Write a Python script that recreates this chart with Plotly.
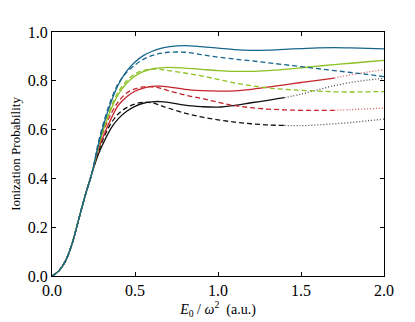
import plotly.graph_objects as go

# field strength E0/w^2 (a.u.)
x = [0, 0.04, 0.08, 0.12, 0.16, 0.2, 0.24, 0.28, 0.32, 0.36, 0.4, 0.45, 0.5, 0.55, 0.6,
     0.65, 0.7, 0.8, 0.9, 1.0, 1.1, 1.2, 1.3, 1.4, 1.5, 1.6, 1.7, 1.8, 1.9, 2.0]

rise = [0, 0.02, 0.06, 0.13, 0.23, 0.33, 0.42]

blue_solid = rise + [0.54, 0.64, 0.72, 0.785, 0.84, 0.877, 0.903, 0.92, 0.932, 0.939, 0.944, 0.94,
                     0.934, 0.928, 0.925, 0.926, 0.929, 0.932, 0.935, 0.936, 0.935, 0.933, 0.931]
blue_dash = rise + [0.55, 0.65, 0.73, 0.79, 0.835, 0.865, 0.888, 0.903, 0.912, 0.917, 0.917, 0.907,
                    0.897, 0.889, 0.882, 0.874, 0.866, 0.858, 0.85, 0.842, 0.834, 0.826, 0.817]
green_solid = rise + [0.53, 0.62, 0.69, 0.745, 0.79, 0.82, 0.838, 0.848, 0.853, 0.855, 0.852, 0.847,
                      0.842, 0.839, 0.839, 0.842, 0.847, 0.853, 0.86, 0.866, 0.872, 0.878, 0.884]
green_dash = rise + [0.54, 0.63, 0.70, 0.755, 0.80, 0.828, 0.843, 0.848, 0.847, 0.842, 0.832, 0.82,
                     0.806, 0.791, 0.78, 0.771, 0.765, 0.761, 0.758, 0.755, 0.754, 0.755, 0.756]
red_solid = rise + [0.52, 0.59, 0.65, 0.70, 0.735, 0.757, 0.77, 0.777, 0.778, 0.775, 0.765, 0.76,
                    0.758, 0.759, 0.765, 0.774, 0.783, 0.793, 0.802, 0.811, 0.825, 0.836, 0.845]
red_dash = rise + [0.53, 0.61, 0.67, 0.715, 0.75, 0.767, 0.775, 0.775, 0.77, 0.76, 0.742, 0.728,
                   0.712, 0.698, 0.69, 0.684, 0.681, 0.679, 0.679, 0.679, 0.682, 0.685, 0.688]
black_solid = rise + [0.50, 0.56, 0.61, 0.645, 0.675, 0.695, 0.708, 0.714, 0.715, 0.712, 0.70, 0.694,
                      0.692, 0.699, 0.71, 0.72, 0.731, 0.745, 0.763, 0.78, 0.793, 0.803, 0.81]
black_dash = rise + [0.51, 0.58, 0.63, 0.665, 0.69, 0.705, 0.712, 0.71, 0.70, 0.688, 0.668, 0.652,
                     0.64, 0.631, 0.624, 0.619, 0.617, 0.616, 0.619, 0.624, 0.629, 0.636, 0.643]

# where the computed part ends and the dotted extrapolation starts
cut_black = 1.4
cut_red = 1.7

series = [
    (black_solid, "#111111", "solid", cut_black),
    (black_dash, "#111111", "5px,3px", cut_black),
    (red_solid, "#c4242b", "solid", cut_red),
    (red_dash, "#c4242b", "5px,3px", cut_red),
    (green_solid, "#8dc021", "solid", None),
    (green_dash, "#8dc021", "5px,3px", None),
    (blue_solid, "#17678c", "solid", None),
    (blue_dash, "#17678c", "5px,3px", None),
]

fig = go.Figure()
for ys, color, dash, cut in series:
    if cut is None:
        xa, ya = x, ys
    else:
        i = x.index(cut)
        xa, ya = x[:i + 1], ys[:i + 1]
        fig.add_trace(go.Scatter(
            x=x[i:], y=ys[i:], mode="lines", opacity=0.75,
            line=dict(color=color, width=1.3, dash="1px,2px", shape="spline"),
            showlegend=False, hoverinfo="skip",
        ))
    fig.add_trace(go.Scatter(
        x=xa, y=ya, mode="lines",
        line=dict(color=color, width=1.3, dash=dash, shape="spline"),
        showlegend=False,
    ))

serif = "Liberation Serif"
axis_style = dict(
    showgrid=False, zeroline=False, showline=True, linecolor="black", linewidth=1.2,
    mirror="ticks", ticks="inside", ticklen=4, tickcolor="black", automargin=False,
    tickfont=dict(family=serif, size=16, color="black"),
)
# page body adds an 8px offset, so margins are shifted to compensate
fig.update_layout(
    width=415, height=322,
    paper_bgcolor="white", plot_bgcolor="white",
    margin=dict(l=44, r=39, t=24, b=54),
    xaxis=dict(range=[0, 2.0], tickvals=[0, 0.5, 1.0, 1.5, 2.0], tickformat=".1f",
               title=dict(text="<i>E</i><sub>0</sub> / <i>ω</i><sup>2</sup>  (a.u.)",
                          font=dict(family=serif, size=14, color="black"), standoff=5),
               **axis_style),
    yaxis=dict(range=[0, 1.0], tickvals=[0, 0.2, 0.4, 0.6, 0.8, 1.0], tickformat=".1f",
               title=dict(text="Ionization Probability",
                          font=dict(family=serif, size=13, color="black"), standoff=7),
               **axis_style),
)

fig.write_html("out.html")
